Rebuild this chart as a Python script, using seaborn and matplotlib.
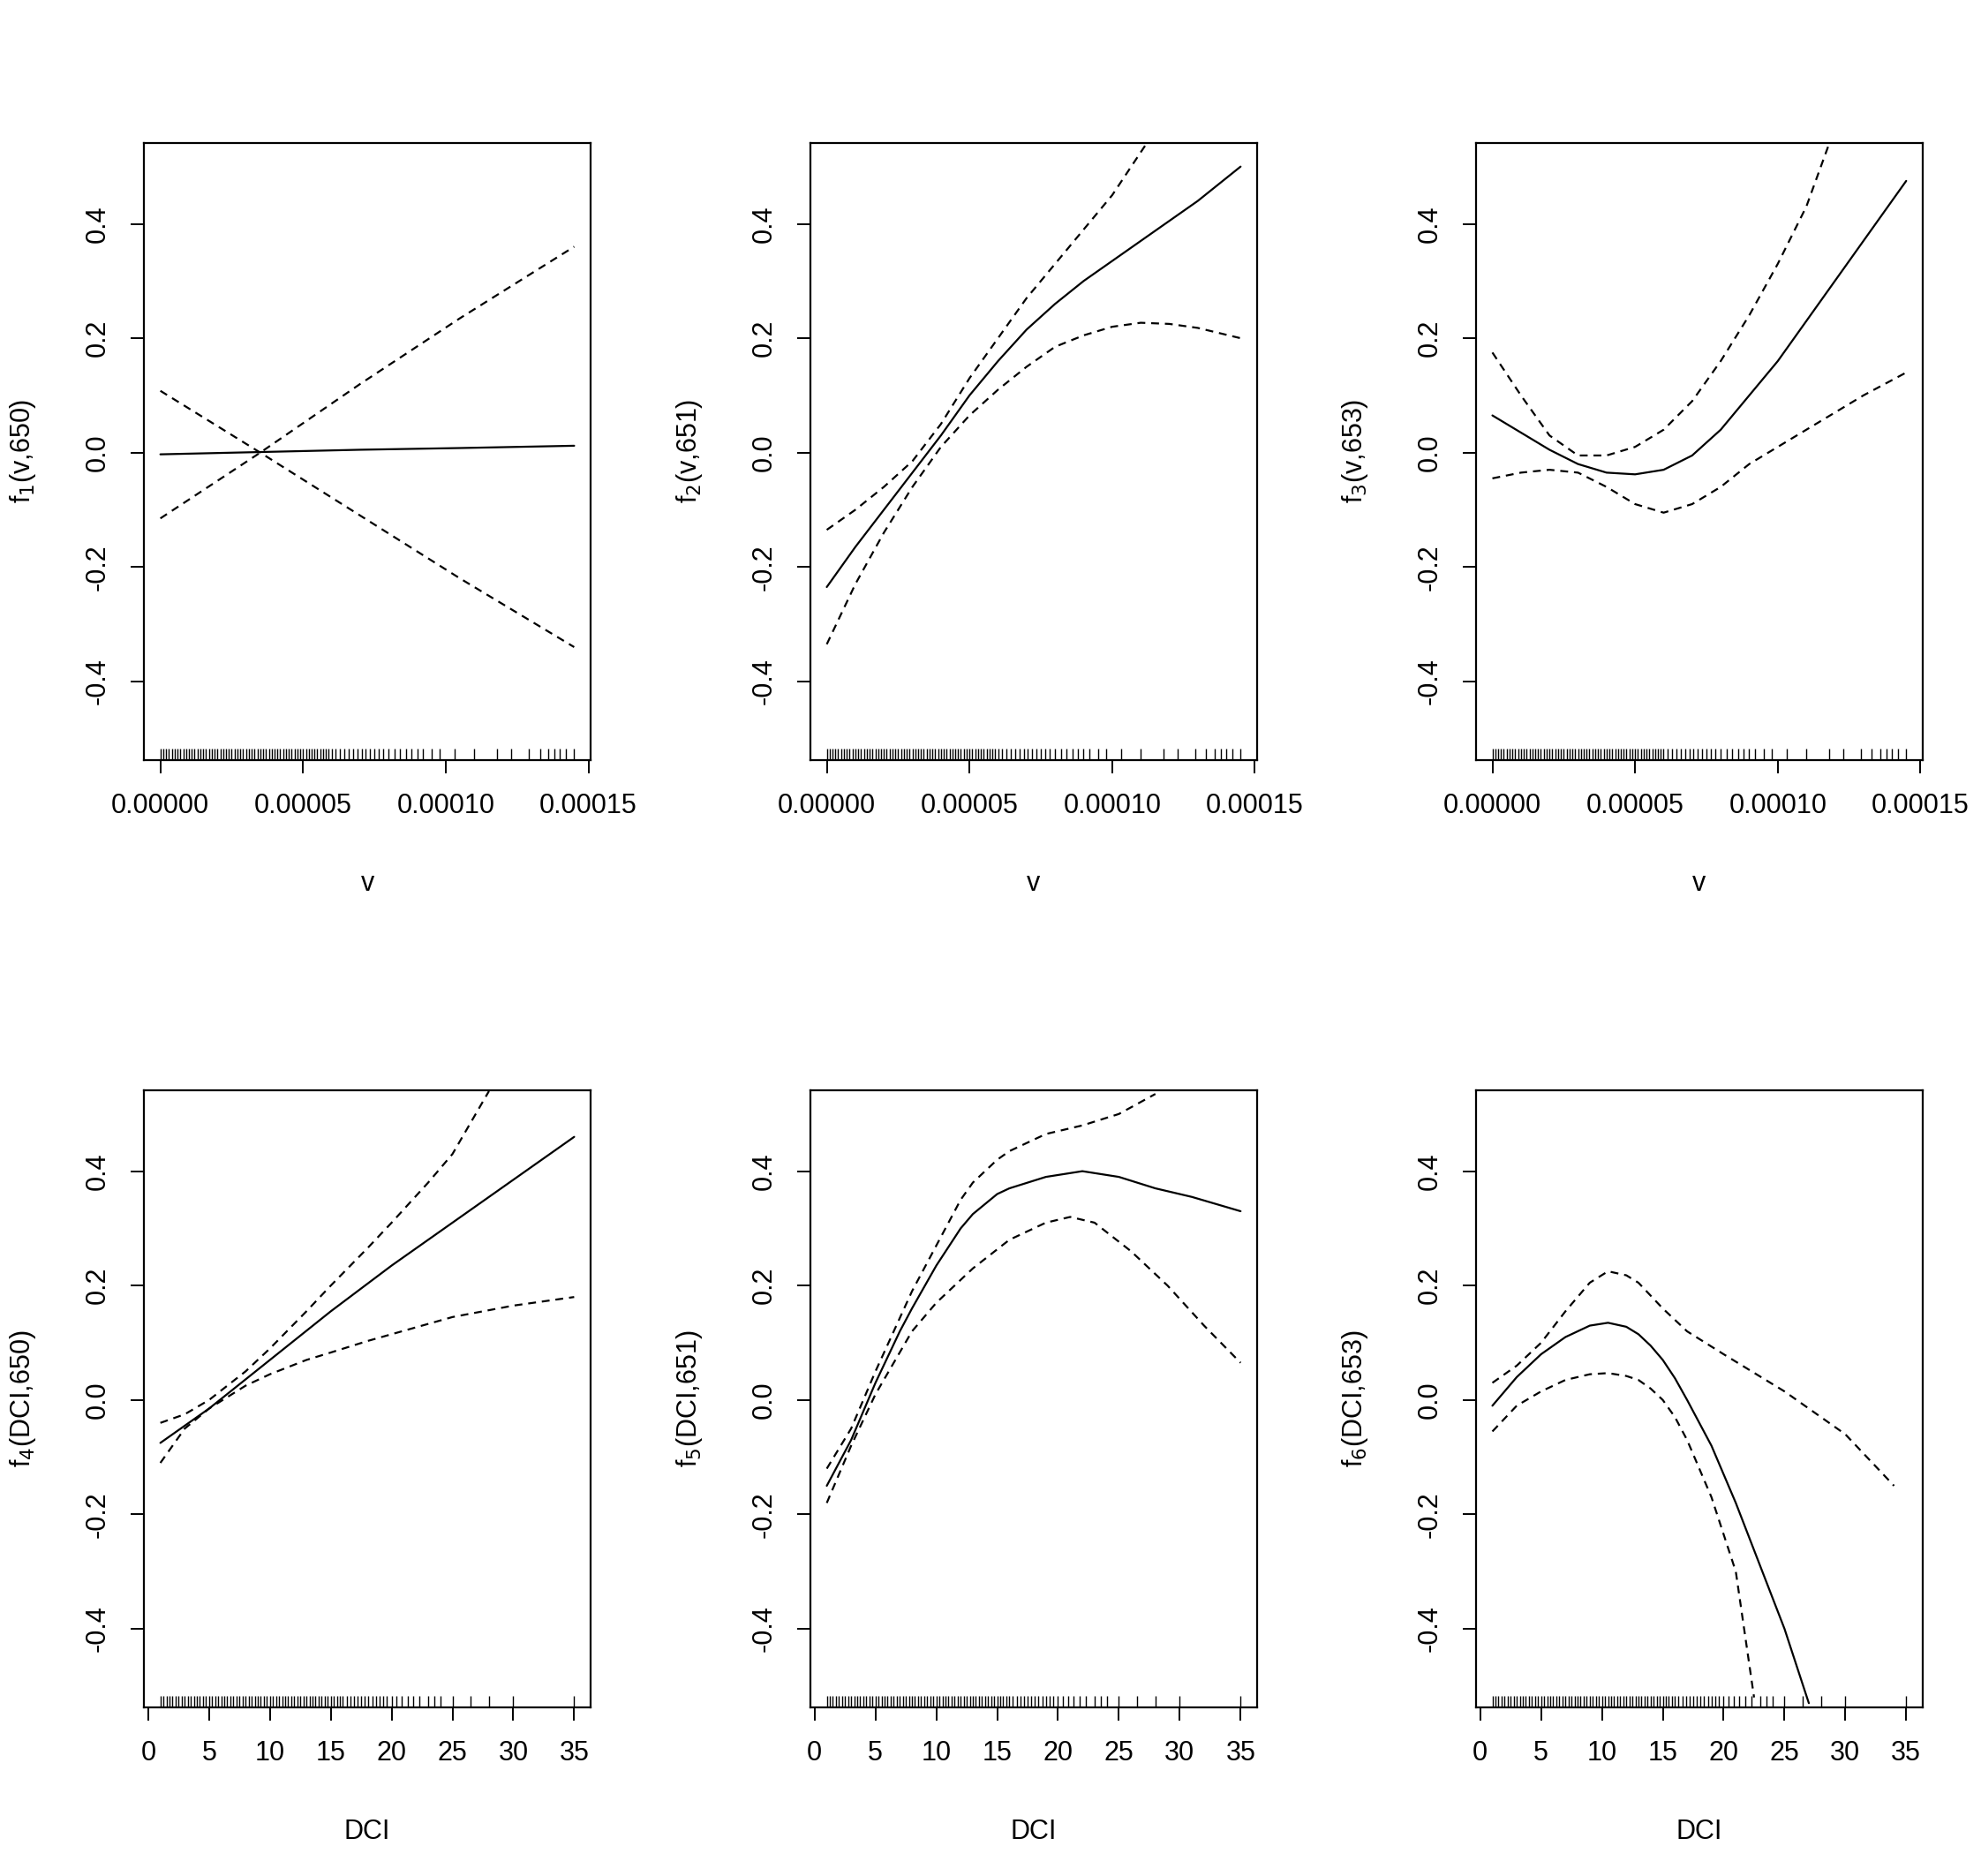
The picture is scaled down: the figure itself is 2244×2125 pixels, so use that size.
import numpy as np
import pandas as pd
import seaborn as sns
import matplotlib.pyplot as plt

sns.set_style("white")
plt.rcParams['font.family'] = ['Liberation Sans', 'DejaVu Sans']
plt.rcParams['text.color'] = 'black'
plt.rcParams['axes.labelcolor'] = 'black'
plt.rcParams['xtick.color'] = 'black'
plt.rcParams['ytick.color'] = 'black'

# x values for v panels are in units of 1e-5
p1_x = [0, 3.5, 7, 10.5, 14.5]
p1_fit = [-0.003, 0.001, 0.005, 0.008, 0.012]
p1_up = [0.108, 0.0, -0.11, -0.22, -0.34]
p1_lo = [-0.115, 0.0, 0.12, 0.235, 0.36]

p2_fit_x = [0, 1, 2, 3, 4, 5, 6, 7, 8, 9, 10, 11, 12, 13, 14.5]
p2_fit = [-0.235, -0.165, -0.1, -0.035, 0.03, 0.1, 0.16, 0.215, 0.26, 0.3, 0.335, 0.37, 0.405, 0.44, 0.5]
p2_up_x = [0, 1, 2, 3, 4, 5, 6, 7, 8, 9, 10, 11.2]
p2_up = [-0.135, -0.1, -0.06, -0.015, 0.05, 0.13, 0.2, 0.27, 0.33, 0.39, 0.45, 0.54]
p2_lo_x = [0, 1, 2, 3, 4, 5, 6, 7, 8, 9, 10, 11, 12, 13, 14.5]
p2_lo = [-0.335, -0.23, -0.14, -0.06, 0.01, 0.065, 0.11, 0.15, 0.185, 0.205, 0.22, 0.227, 0.225, 0.218, 0.2]

p3_fit_x = [0, 1, 2, 3, 4, 5, 6, 7, 8, 9, 10, 11, 12, 13, 14.5]
p3_fit = [0.065, 0.035, 0.005, -0.02, -0.035, -0.038, -0.03, -0.005, 0.04, 0.1, 0.16, 0.23, 0.3, 0.37, 0.475]
p3_up_x = [0, 1, 2, 3, 4, 5, 6, 7, 8, 9, 10, 11, 11.8]
p3_up = [0.175, 0.1, 0.03, -0.005, -0.005, 0.01, 0.04, 0.09, 0.16, 0.24, 0.33, 0.43, 0.54]
p3_lo_x = [0, 1, 2, 3, 4, 5, 6, 7, 8, 9, 10, 11, 12, 13, 14.5]
p3_lo = [-0.045, -0.035, -0.03, -0.035, -0.06, -0.09, -0.105, -0.09, -0.06, -0.02, 0.01, 0.04, 0.07, 0.1, 0.14]

p4_fit_x = [1, 5, 10, 15, 20, 25, 30, 35]
p4_fit = [-0.075, -0.015, 0.07, 0.155, 0.235, 0.31, 0.385, 0.46]
p4_up_x = [1, 3, 5, 8, 10, 13, 15, 18, 20, 23, 25, 28]
p4_up = [-0.04, -0.025, 0.0, 0.05, 0.09, 0.155, 0.2, 0.265, 0.31, 0.38, 0.43, 0.54]
p4_lo_x = [1, 3, 5, 8, 10, 13, 15, 18, 20, 25, 30, 35]
p4_lo = [-0.11, -0.05, -0.015, 0.025, 0.045, 0.07, 0.083, 0.103, 0.115, 0.145, 0.165, 0.18]

p5_fit_x = [1, 3, 5, 7, 8, 10, 12, 13, 15, 16, 19, 22, 25, 28, 31, 35]
p5_fit = [-0.15, -0.07, 0.03, 0.12, 0.16, 0.235, 0.3, 0.325, 0.36, 0.37, 0.39, 0.4, 0.39, 0.37, 0.355, 0.33]
p5_up_x = [1, 3, 5, 8, 10, 12, 13, 15, 16, 19, 22, 25, 28]
p5_up = [-0.12, -0.05, 0.05, 0.19, 0.27, 0.35, 0.38, 0.42, 0.435, 0.465, 0.48, 0.5, 0.535]
p5_lo_x = [1, 3, 5, 8, 10, 13, 16, 19, 21, 23, 26, 29, 32, 35]
p5_lo = [-0.18, -0.08, 0.01, 0.12, 0.17, 0.23, 0.28, 0.31, 0.32, 0.31, 0.26, 0.2, 0.13, 0.065]

p6_fit_x = [1, 3, 5, 7, 9, 10.5, 12, 13, 14, 15, 16, 17, 19, 21, 23, 25, 27]
p6_fit = [-0.01, 0.04, 0.08, 0.11, 0.13, 0.135, 0.128, 0.115, 0.095, 0.07, 0.038, 0.0, -0.08, -0.18, -0.29, -0.4, -0.53]
p6_up_x = [1, 3, 5, 7, 9, 10.5, 12, 13, 15, 17, 20, 25, 30, 34]
p6_up = [0.03, 0.06, 0.1, 0.155, 0.205, 0.225, 0.218, 0.205, 0.16, 0.12, 0.08, 0.015, -0.06, -0.15]
p6_lo_x = [1, 3, 5, 7, 9, 10.5, 12, 13, 14, 15, 16, 17, 19, 21, 22.5]
p6_lo = [-0.055, -0.01, 0.015, 0.035, 0.045, 0.047, 0.042, 0.035, 0.02, 0.0, -0.03, -0.07, -0.17, -0.3, -0.52]

rug_v = [0.0, 0.1, 0.2, 0.3, 0.4, 0.5, 0.6, 0.7, 0.8, 0.9, 1.0, 1.1, 1.2, 1.3, 1.4, 1.5,
         1.6, 1.7, 1.8, 1.9, 2.0, 2.1, 2.2, 2.3, 2.4, 2.5, 2.6, 2.7, 2.8, 2.9, 3.0, 3.1,
         3.2, 3.3, 3.4, 3.5, 3.6, 3.7, 3.8, 3.9, 4.0, 4.1, 4.2, 4.3, 4.4, 4.5, 4.6, 4.7,
         4.8, 4.9, 5.0, 5.1, 5.2, 5.3, 5.4, 5.5, 5.6, 5.7, 5.8, 5.9, 6.0, 6.15, 6.3, 6.45,
         6.6, 6.75, 6.9, 7.05, 7.2, 7.35, 7.5, 7.65, 7.8, 8.0, 8.2, 8.4, 8.6, 8.8, 9.0,
         9.2, 9.5, 9.8, 10.3, 11.0, 11.8, 12.3, 12.9, 13.3, 13.6, 13.8, 14.0, 14.2, 14.5]
rug_dci = [1, 1.25, 1.5, 1.75, 2, 2.25, 2.5, 2.75, 3, 3.25, 3.5, 3.75, 4, 4.25, 4.5, 4.75,
           5, 5.25, 5.5, 5.75, 6, 6.25, 6.5, 6.75, 7, 7.25, 7.5, 7.75, 8, 8.25, 8.5, 8.75,
           9, 9.25, 9.5, 9.75, 10, 10.25, 10.5, 10.75, 11, 11.25, 11.5, 11.75, 12, 12.25,
           12.5, 12.75, 13, 13.25, 13.5, 13.75, 14, 14.25, 14.5, 14.75, 15, 15.25, 15.5,
           15.75, 16, 16.3, 16.6, 16.9, 17.2, 17.5, 17.8, 18.1, 18.4, 18.7, 19, 19.3, 19.6,
           20, 20.4, 20.8, 21.3, 21.8, 22.3, 23, 23.5, 24, 25, 26.5, 28, 30, 35]

ylabels = [r"f$_1$(v,650)", r"f$_2$(v,651)", r"f$_3$(v,653)",
           r"f$_4$(DCI,650)", r"f$_5$(DCI,651)", r"f$_6$(DCI,653)"]
panels = [
    (p1_x, p1_fit, p1_x, p1_up, p1_x, p1_lo),
    (p2_fit_x, p2_fit, p2_up_x, p2_up, p2_lo_x, p2_lo),
    (p3_fit_x, p3_fit, p3_up_x, p3_up, p3_lo_x, p3_lo),
    (p4_fit_x, p4_fit, p4_up_x, p4_up, p4_lo_x, p4_lo),
    (p5_fit_x, p5_fit, p5_up_x, p5_up, p5_lo_x, p5_lo),
    (p6_fit_x, p6_fit, p6_up_x, p6_up, p6_lo_x, p6_lo),
]

fig = plt.figure(figsize=(22.44, 21.25), dpi=100)
lefts = [0.0726, 0.409, 0.745]
w = 0.2256
bottoms = [0.595, 0.09]
h = 0.329

for i, pan in enumerate(panels):
    row, col = divmod(i, 3)
    ax = fig.add_axes([lefts[col], bottoms[row], w, h])
    is_v = row == 0
    sc = 1e-5 if is_v else 1.0
    fx, fy, ux, uy, lx, ly = pan
    sns.lineplot(x=np.array(fx) * sc, y=fy, ax=ax, color="black", lw=1.6)
    sns.lineplot(x=np.array(ux) * sc, y=uy, ax=ax, color="black", lw=1.6, linestyle=(0, (4, 3)))
    sns.lineplot(x=np.array(lx) * sc, y=ly, ax=ax, color="black", lw=1.6, linestyle=(0, (4, 3)))
    rug = np.array(rug_v if is_v else rug_dci) * sc
    sns.rugplot(x=rug, ax=ax, height=0.018, color="black", lw=1)
    ax.set_ylim(-0.537, 0.542)
    ax.set_yticks([-0.4, -0.2, 0.0, 0.2, 0.4])
    ax.set_yticklabels(["-0.4", "-0.2", "0.0", "0.2", "0.4"], rotation=90, va="center")
    if is_v:
        ax.set_xlim(-0.0000058, 0.0001508)
        ticks = [0, 0.00005, 0.0001, 0.00015]
        ax.set_xticks(ticks)
        ax.set_xticklabels(["%.5f" % t for t in ticks])
        ax.set_xlabel("v", fontsize=22, labelpad=42)
    else:
        ax.set_xlim(-0.36, 36.36)
        ax.set_xticks(range(0, 36, 5))
        ax.set_xlabel("DCI", fontsize=22, labelpad=42)
    ax.set_ylabel(ylabels[i], fontsize=22, labelpad=38)
    ax.tick_params(axis="both", direction="out", length=11, width=1.4, labelsize=22,
                   bottom=True, left=True, pad=16, color="black")
    for s in ax.spines.values():
        s.set_color("black")
        s.set_linewidth(1.6)

fig.savefig("out.png", dpi=100, facecolor="white")
